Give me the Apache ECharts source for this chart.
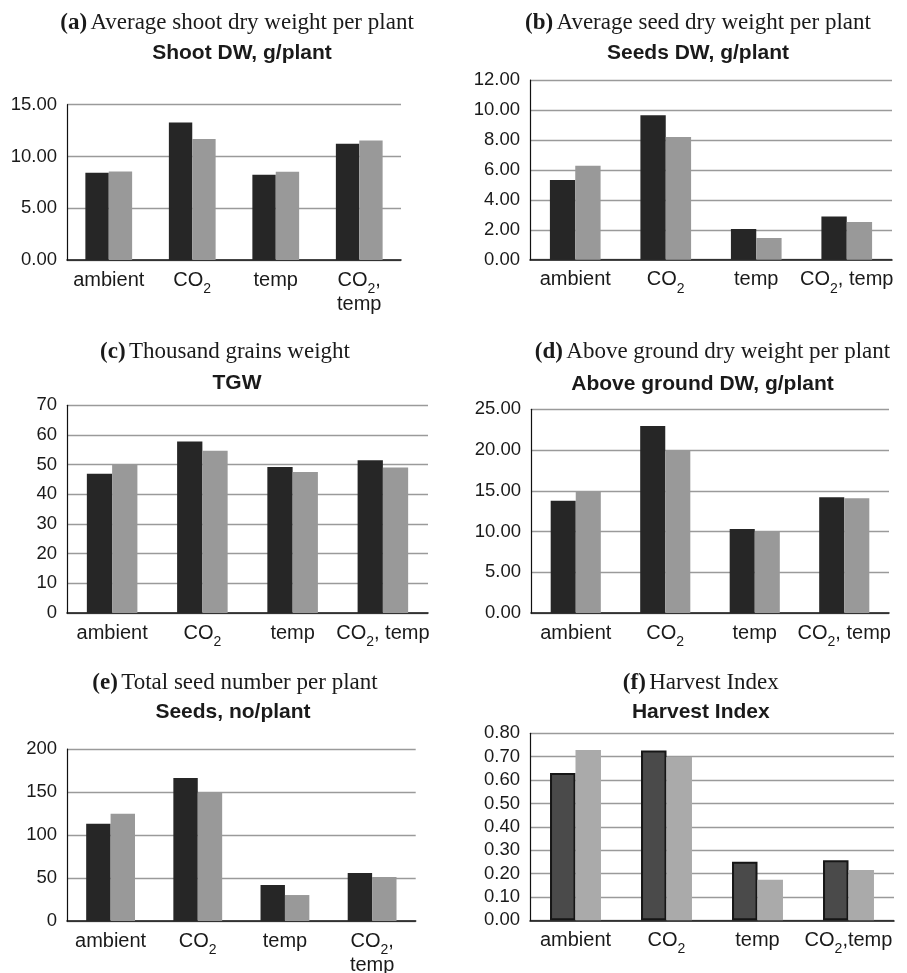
<!DOCTYPE html>
<html><head><meta charset="utf-8">
<script src="https://cdn.jsdelivr.net/npm/echarts@6/dist/echarts.min.js"></script>
<style>html,body{margin:0;padding:0;background:#fff}#c{width:907px;height:973px}</style>
</head><body><div id="c"></div>
<script>
// ---- data ----
var catsA = ['ambient', 'CO2', 'temp', 'CO2,\ntemp'];
var catsB = ['ambient', 'CO2', 'temp', 'CO2, temp'];
var catsF = ['ambient', 'CO2', 'temp', 'CO2,temp'];

var shootDark = [8.43, 13.29, 8.24, 11.23];
var shootGray = [8.56, 11.68, 8.53, 11.55];
var seedDWDark = [5.32, 9.64, 2.05, 2.89];
var seedDWGray = [6.28, 8.19, 1.45, 2.52];
var tgwDark = [46.9, 57.8, 49.2, 51.5];
var tgwGray = [50.1, 54.7, 47.5, 49.0];
var agDark = [13.79, 22.95, 10.31, 14.20];
var agGray = [14.85, 19.93, 10.07, 14.08];
var seedNoDark = [113.2, 166.3, 41.9, 55.8];
var seedNoGray = [124.8, 150.0, 30.2, 51.2];
var hiDark = [0.630, 0.726, 0.251, 0.257];
var hiGray = [0.729, 0.699, 0.173, 0.215];

var panelLetters = ['(a)', '(b)', '(c)', '(d)', '(e)', '(f)'];
var panelTitles = ['Average shoot dry weight per plant', 'Average seed dry weight per plant',
  'Thousand grains weight', 'Above ground dry weight per plant',
  'Total seed number per plant', 'Harvest Index'];
var panelSubtitles = ['Shoot DW, g/plant', 'Seeds DW, g/plant', 'TGW',
  'Above ground DW, g/plant', 'Seeds, no/plant', 'Harvest Index'];
var yMax = [15, 12, 70, 25, 200, 0.8];
var yInterval = [5, 2, 10, 5, 50, 0.1];
var yDecimals = [2, 2, 0, 2, 0, 2];

// ---- layout ----
var panels = [
  {cats: catsA, d: shootDark, g: shootGray, grid: {left: 67, top: 104.7, width: 334, height: 155.3}, tx: 237, ty: 23, sx: 242, sy: 53},
  {cats: catsB, d: seedDWDark, g: seedDWGray, grid: {left: 530, top: 80, width: 362, height: 179.7}, tx: 698, ty: 23, sx: 698, sy: 53},
  {cats: catsB, d: tgwDark, g: tgwGray, grid: {left: 67, top: 405.3, width: 361, height: 207.7}, tx: 225, ty: 351.7, sx: 237, sy: 383},
  {cats: catsB, d: agDark, g: agGray, grid: {left: 531, top: 409.3, width: 358, height: 203.7}, tx: 712.5, ty: 351.7, sx: 702.5, sy: 384},
  {cats: catsA, d: seedNoDark, g: seedNoGray, grid: {left: 67, top: 749, width: 348.7, height: 172}, tx: 235, ty: 683.3, sx: 233, sy: 712.7},
  {cats: catsF, d: hiDark, g: hiGray, grid: {left: 530, top: 733.3, width: 364, height: 187}, tx: 700.8, ty: 683, sx: 700.8, sy: 712.7}
];

var SANS = 'Liberation Sans, Arial, Helvetica, sans-serif';
var SERIF = 'Liberation Serif, Times New Roman, serif';

function catFormatter(v) {
  var lines = v.split('\n');
  return lines.map(function (ln, i) {
    var st = i === 0 ? 'n' : 'n2';
    var parts = ln.split('CO2');
    var out = '';
    for (var k = 0; k < parts.length; k++) {
      if (k > 0) out += '{' + st + '|CO}{s|2}';
      if (parts[k]) out += '{' + st + '|' + parts[k] + '}';
    }
    return out;
  }).join('\n');
}

var rich = {
  n: {fontFamily: SANS, fontSize: 20, lineHeight: 20, padding: [0, 0, 6, 0], color: '#1a1a1a'},
  n2: {fontFamily: SANS, fontSize: 20, lineHeight: 22, color: '#1a1a1a'},
  s: {fontFamily: SANS, fontSize: 14, lineHeight: 14, padding: [12, 0, 0, 0], color: '#1a1a1a'}
};

var grids = [], xAxes = [], yAxes = [], series = [], graphics = [];
panels.forEach(function (p, i) {
  var g = Object.assign({outerBoundsMode: 'none', containLabel: false}, p.grid);
  grids.push(g);
  xAxes.push({
    type: 'category', gridIndex: i, data: p.cats,
    axisLine: {lineStyle: {color: '#111', width: 1.5}},
    axisTick: {show: false},
    axisLabel: {margin: 13, interval: 0, formatter: catFormatter, rich: rich, fontFamily: SANS, fontSize: 20, lineHeight: 20, color: '#1a1a1a'}
  });
  yAxes.push({
    type: 'value', gridIndex: i, min: 0, max: yMax[i], interval: yInterval[i],
    axisLine: {show: true, lineStyle: {color: '#111', width: 1.2}},
    axisTick: {show: false},
    splitLine: {show: true, lineStyle: {color: '#9a9a9a', width: 1.3}},
    axisLabel: {margin: 10, fontFamily: SANS, fontSize: 18.5, color: '#1a1a1a',
      formatter: (function (dec) { return function (v) { return v.toFixed(dec); }; })(yDecimals[i])}
  });
  var isF = i === 5;
  series.push({
    type: 'bar', xAxisIndex: i, yAxisIndex: i, data: p.d, barWidth: '28%', barGap: '0%',
    itemStyle: isF ? {color: '#4a4a4a', borderColor: '#161616', borderWidth: 2} : {color: '#262626'},
    silent: true, animation: false
  });
  series.push({
    type: 'bar', xAxisIndex: i, yAxisIndex: i, data: p.g, barWidth: '28%', barGap: '0%',
    itemStyle: {color: isF ? '#aaaaaa' : '#999999'},
    silent: true, animation: false
  });
  graphics.push({
    type: 'text', x: p.tx, y: p.ty,
    style: {
      text: '{b|' + panelLetters[i] + '} {r|' + panelTitles[i] + '}',
      align: 'center', verticalAlign: 'middle',
      rich: {
        b: {fontFamily: SERIF, fontSize: 23, fontWeight: 'bold', fill: '#1a1a1a'},
        r: {fontFamily: SERIF, fontSize: 23, fill: '#1a1a1a'}
      }
    }
  });
  graphics.push({
    type: 'text', x: p.sx, y: p.sy,
    style: {
      text: panelSubtitles[i], align: 'center', verticalAlign: 'middle',
      fontFamily: SANS, fontSize: 21, fontWeight: 'bold', fill: '#1a1a1a'
    }
  });
});

var chart = echarts.init(document.getElementById('c'), null, {renderer: 'canvas'});
chart.setOption({
  backgroundColor: '#ffffff',
  animation: false,
  grid: grids, xAxis: xAxes, yAxis: yAxes, series: series, graphic: graphics
});
</script>
</body></html>
